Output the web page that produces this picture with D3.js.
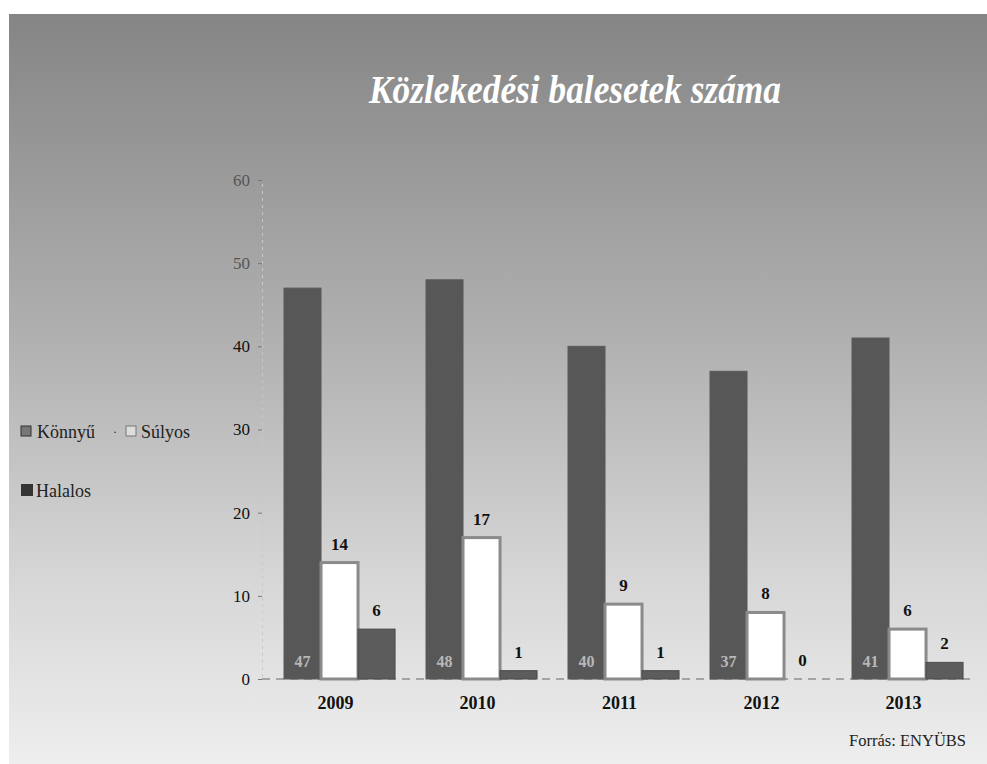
<!DOCTYPE html>
<html><head><meta charset="utf-8">
<script src="https://cdn.jsdelivr.net/npm/d3@7"></script>
<style>html,body{margin:0;padding:0;background:#fff;}svg{display:block;}</style>
</head><body>
<div id="chart"></div>
<script>
const categories = ["2009","2010","2011","2012","2013"];
const seriesNames = ["Könnyű","Súlyos","Halalos"];
const konnyu = [47,48,40,37,41];
const sulyos = [14,17,9,8,6];
const halalos = [6,1,1,0,2];
const yTicks = [0,10,20,30,40,50,60];
const title = "Közlekedési balesetek száma";
const source = "Forrás: ENYÜBS";

const W = 987, H = 764;
const svg = d3.select("#chart").append("svg").attr("width", W).attr("height", H);
const defs = svg.append("defs");
const grad = defs.append("linearGradient").attr("id","bg").attr("x1",0).attr("y1",0).attr("x2",0).attr("y2",1);
grad.append("stop").attr("offset","0%").attr("stop-color","#858585");
grad.append("stop").attr("offset","45%").attr("stop-color","#b2b2b2");
grad.append("stop").attr("offset","75%").attr("stop-color","#d6d6d6");
grad.append("stop").attr("offset","100%").attr("stop-color","#eeeeee");
svg.append("rect").attr("x",9).attr("y",14).attr("width",W-9).attr("height",H-14).attr("fill","url(#bg)");

svg.append("text").attr("x",575).attr("y",103).attr("text-anchor","middle")
  .attr("font-family","Liberation Serif").attr("font-style","italic").attr("font-weight","bold")
  .attr("font-size",40).attr("fill","#ffffff").attr("textLength",412).attr("lengthAdjust","spacingAndGlyphs")
  .text(title);

const y = d3.scaleLinear().domain([0,60]).range([679,180]);
const step = 142, pin = 0.218, pout = 0.1;
const r0 = 284 - pout*step;
const x0 = d3.scaleBand().domain(categories).range([r0, r0 + step*(categories.length - pin + 2*pout)])
  .paddingInner(pin).paddingOuter(pout);
const x1 = d3.scaleBand().domain(seriesNames).range([0,x0.bandwidth()]);

// y axis
const yAxis = d3.axisLeft(y).tickValues(yTicks).tickSize(4).tickFormat(d3.format("d"));
const ga = svg.append("g").attr("transform","translate(262,0)").call(yAxis);
ga.select(".domain").attr("stroke","#c8c8c8").attr("stroke-dasharray","3,4");
ga.selectAll(".tick line").attr("stroke","#777");
ga.selectAll(".tick text").attr("font-family","Liberation Serif").attr("font-size",17)
  .attr("fill", d=> d>=50 ? "#555" : "#111").attr("x",-12);

// baseline
svg.append("line").attr("x1",262).attr("x2",975).attr("y1",y(0)).attr("y2",y(0))
  .attr("stroke","#666").attr("stroke-dasharray","8,6").attr("stroke-width",1.2);

const data = categories.map((c,i)=>({cat:c, vals:[konnyu[i],sulyos[i],halalos[i]]}));
const fills = {"Könnyű":"#575757","Súlyos":"#ffffff","Halalos":"#5c5c5c"};
const strokes = {"Könnyű":"#5a5a5a","Súlyos":"#8a8a8a","Halalos":"#4a4a4a"};

const groups = svg.append("g").selectAll("g").data(data).join("g")
  .attr("transform", d=>`translate(${x0(d.cat)},0)`);
groups.selectAll("rect").data(d=>d.vals.map((v,j)=>({s:seriesNames[j], v})))
  .join("rect")
  .attr("x", d=>x1(d.s)).attr("width", x1.bandwidth())
  .attr("y", d=>y(d.v)).attr("height", d=>y(0)-y(d.v))
  .attr("fill", d=>fills[d.s]).attr("stroke", d=>strokes[d.s])
  .attr("stroke-width", d=>d.s==="Súlyos"?3:1);

// labels
groups.selectAll("text.lab").data(d=>d.vals.map((v,j)=>({s:seriesNames[j], v})))
  .join("text").attr("class","lab")
  .attr("x", d=>x1(d.s)+x1.bandwidth()/2)
  .attr("y", d=> d.s==="Könnyű" ? y(0)-12 : y(d.v)-13)
  .attr("text-anchor","middle")
  .attr("font-family","Liberation Serif").attr("font-weight","bold")
  .attr("font-size", d=>d.s==="Könnyű"?16:17)
  .attr("fill", d=>d.s==="Könnyű"?"#b8b8b8":"#111")
  .text(d=>d.v);

// category labels
svg.append("g").selectAll("text").data(categories).join("text")
  .attr("x", d=>x0(d)+x0.bandwidth()/2-4).attr("y",709).attr("text-anchor","middle")
  .attr("font-family","Liberation Serif").attr("font-weight","bold").attr("font-size",18)
  .attr("fill","#111").text(d=>d);

// legend
const lg = svg.append("g").attr("font-family","Liberation Serif").attr("font-size",18).attr("fill","#222");
lg.append("rect").attr("x",21).attr("y",426).attr("width",10).attr("height",10).attr("fill","#777").attr("stroke","#333");
lg.append("text").attr("x",37).attr("y",438).text(seriesNames[0]);
lg.append("text").attr("x",113).attr("y",436).attr("font-size",12).text("·");
lg.append("rect").attr("x",126).attr("y",426).attr("width",10).attr("height",10).attr("fill","#ddd").attr("stroke","#777");
lg.append("text").attr("x",141).attr("y",438).text(seriesNames[1]);
lg.append("rect").attr("x",21).attr("y",484).attr("width",12).attr("height",12).attr("fill","#333");
lg.append("text").attr("x",36).attr("y",497).text(seriesNames[2]);

svg.append("text").attr("x",966).attr("y",746).attr("text-anchor","end")
  .attr("font-family","Liberation Serif").attr("font-size",16.5).attr("fill","#222").text(source);
</script>
</body></html>
